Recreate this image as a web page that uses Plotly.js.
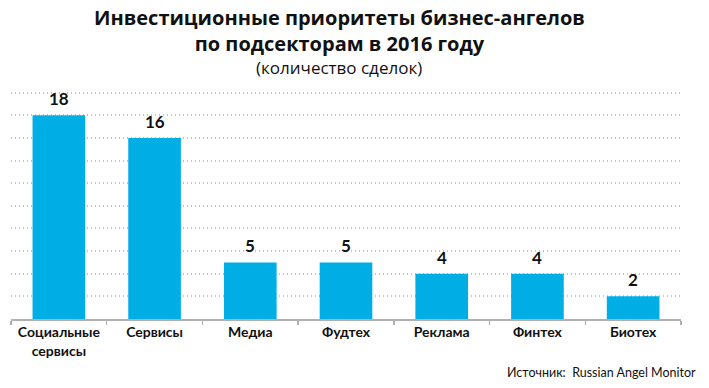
<!DOCTYPE html>
<html>
<head>
<meta charset="utf-8">
<script src="https://cdn.plot.ly/plotly-3.0.1.min.js"></script>
<style>html,body{margin:0;padding:0;background:#fff;}#chart{width:709px;height:388px;}</style>
</head>
<body>
<div id="chart"></div>
<script>
const categories = ["Социальные<br>сервисы", "Сервисы", "Медиа", "Фудтех", "Реклама", "Финтех", "Биотех"];
const deals = [18, 16, 5, 5, 4, 4, 2];
const titleLines = ["Инвестиционные приоритеты бизнес-ангелов", "по подсекторам в 2016 году"];
const subtitle = "(количество сделок)";
const sourceText = "Источник:  Russian Angel Monitor";

const FONT = "Lato, 'Open Sans', sans-serif";
const TFONT = "'Open Sans', Lato, sans-serif";
const barColor = "#00AEE6";

const trace = {
  type: "bar",
  x: categories,
  y: deals,
  marker: {color: barColor},
  width: 0.55,
  hoverinfo: "none"
};

const valueAnnotations = categories.map((c, i) => ({
  x: c, y: deals[i], xref: "x", yref: "y",
  text: String(deals[i]), showarrow: false,
  yanchor: "bottom", yshift: 4,
  font: {family: FONT, size: 17, color: "#111", weight: 700}
}));

const layout = {
  width: 709, height: 388,
  margin: {l: 11, r: 28, t: 87, b: 69},
  paper_bgcolor: "#fff", plot_bgcolor: "#fff",
  showlegend: false,
  bargap: 0.45,
  xaxis: {
    type: "category",
    showline: true, linecolor: "#b0b0b0", linewidth: 1.5,
    ticks: "outside", tickson: "boundaries", ticklen: 4, tickcolor: "#b0b0b0", tickwidth: 1.5,
    showgrid: false,
    tickfont: {family: FONT, size: 14, color: "#111", weight: 700}
  },
  yaxis: {
    range: [0, 20.5],
    dtick: 2, tick0: 0,
    showticklabels: false,
    showgrid: true, gridcolor: "#c4c4c4", gridwidth: 2, griddash: "1px,3px",
    zeroline: false, showline: false, ticks: ""
  },
  annotations: [
    {xref: "paper", yref: "paper", x: 0.49, y: 1, xanchor: "center", yanchor: "bottom",
     yshift: 29, showarrow: false, text: titleLines.join("<br>"), borderpad: 0,
     font: {family: TFONT, size: 20, color: "#111", weight: 700}},
    {xref: "paper", yref: "paper", x: 0.49, y: 1, xanchor: "center", yanchor: "bottom",
     yshift: 7, showarrow: false, text: subtitle, borderpad: 0,
     font: {family: TFONT, size: 17, color: "#111"}},
    {xref: "paper", yref: "paper", x: 1.025, y: 0, xanchor: "right", yanchor: "top",
     yshift: -44, showarrow: false, text: sourceText,
     font: {family: FONT, size: 12.5, color: "#111"}}
  ].concat(valueAnnotations)
};

Plotly.newPlot("chart", [trace], layout, {displayModeBar: false, staticPlot: true});
</script>
</body>
</html>
